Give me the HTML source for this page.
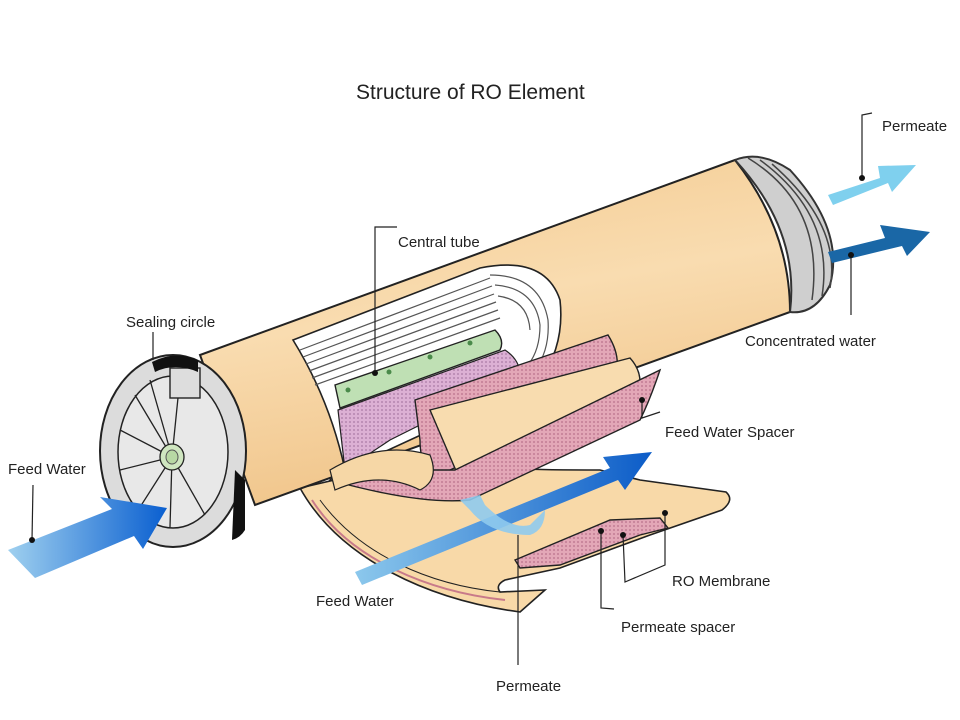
<!DOCTYPE html>
<html><head><meta charset="utf-8"><style>
html,body{margin:0;padding:0;background:#fff}
svg{display:block}
text{font-family:"Liberation Sans",sans-serif;fill:#222}
</style></head><body>
<svg width="960" height="720" viewBox="0 0 960 720" xmlns="http://www.w3.org/2000/svg">
<defs>
<linearGradient id="tan" x1="0" y1="0" x2="0.3" y2="1">
<stop offset="0" stop-color="#f3c98e"/><stop offset="0.5" stop-color="#f9dcb0"/><stop offset="1" stop-color="#f0c489"/></linearGradient>
<linearGradient id="feed" x1="0" y1="0" x2="1" y2="0">
<stop offset="0" stop-color="#9fd0ef"/><stop offset="1" stop-color="#0a5fd0"/></linearGradient>
<linearGradient id="mid" x1="0" y1="0" x2="1" y2="0">
<stop offset="0" stop-color="#8cc8ec"/><stop offset="1" stop-color="#0c5cc8"/></linearGradient>
<pattern id="dots" width="4" height="4" patternUnits="userSpaceOnUse">
<rect width="4" height="4" fill="#e3a7b7"/><circle cx="2" cy="2" r="0.9" fill="#b8708a"/></pattern>
<pattern id="dots2" width="4" height="4" patternUnits="userSpaceOnUse">
<rect width="4" height="4" fill="#dcb0d4"/><circle cx="2" cy="2" r="0.9" fill="#a97aa5"/></pattern>
</defs>

<text x="356" y="99" font-size="21">Structure of RO Element</text>

<!-- lower unrolled sheet -->
<path d="M300,488 C340,560 430,600 520,612 L545,590 L500,592 Q495,585 505,580 L560,568 L650,535 L722,510 Q735,500 726,492 L640,480 L600,470 C560,470 470,470 420,460 Z" fill="#f8d9a8" stroke="#222" stroke-width="1.6"/>
<path d="M312,500 C350,560 430,592 505,600" fill="none" stroke="#c87a8a" stroke-width="2"/>
<path d="M320,500 C360,555 430,585 500,592" fill="none" stroke="#222" stroke-width="1"/>
<path d="M515,560 L610,520 L660,518 L668,528 L640,535 L560,565 L520,568 Z" fill="url(#dots)" stroke="#222" stroke-width="1.4"/>

<!-- main tube -->
<path d="M200,355 L735,160 Q790,230 790,312 L255,505 Z" fill="url(#tan)" stroke="#222" stroke-width="2"/>
<!-- right end ring -->
<path d="M735,160 Q760,150 790,170 Q845,230 830,285 Q815,315 790,312 Q800,230 735,160 Z" fill="#cfcfcf" stroke="#333" stroke-width="2"/>
<path d="M748,158 Q825,205 812,300" fill="none" stroke="#444" stroke-width="1.5"/>
<path d="M760,160 Q835,215 822,296" fill="none" stroke="#444" stroke-width="1.5"/>
<path d="M772,164 Q842,225 830,288" fill="none" stroke="#444" stroke-width="1.5"/>

<!-- cutaway layered region -->
<path d="M293,340 L480,268 Q545,255 560,300 Q565,345 540,380 L345,470 Q330,400 293,340 Z" fill="#fff" stroke="#222" stroke-width="1.6"/>
<g stroke="#555" stroke-width="1.2" fill="none">
<path d="M300,350 L490,278"/><path d="M303,357 L492,286"/><path d="M306,364 L494,294"/><path d="M309,371 L496,302"/><path d="M312,378 L498,310"/><path d="M315,385 L500,318"/>
<path d="M490,275 Q540,275 548,320 Q550,350 535,370"/><path d="M495,285 Q535,288 540,325 Q540,350 528,365"/><path d="M498,296 Q528,300 530,330"/>
</g>
<!-- green central tube -->
<path d="M335,385 L495,330 Q505,340 500,350 L340,408 Z" fill="#bfe0b4" stroke="#222" stroke-width="1.4"/>
<circle cx="348" cy="390" r="2.5" fill="#4a8a4a"/><circle cx="389" cy="372" r="2.5" fill="#4a8a4a"/><circle cx="430" cy="357" r="2.5" fill="#4a8a4a"/><circle cx="470" cy="343" r="2.5" fill="#4a8a4a"/>
<!-- pink sheets -->
<path d="M338,410 L505,350 Q520,360 520,375 L390,440 Q360,460 345,470 Z" fill="url(#dots2)" stroke="#222" stroke-width="1.2"/>
<path d="M415,400 L608,335 Q630,370 600,400 L450,470 Q420,480 420,440 Z" fill="url(#dots)" stroke="#222" stroke-width="1.4"/>
<path d="M430,410 L630,358 Q650,380 630,410 L460,480 Z" fill="#f8dcaf" stroke="#222" stroke-width="1.4"/>
<path d="M455,470 L660,370 Q650,400 640,420 L470,500 Q420,505 330,480 Q350,460 400,470 Z" fill="url(#dots)" stroke="#222" stroke-width="1.4"/>
<path d="M330,470 Q380,440 430,455 Q440,480 420,490 Q380,470 335,490 Z" fill="#f6d7a6" stroke="#222" stroke-width="1.2"/>

<!-- left end cap -->
<ellipse cx="173" cy="451" rx="73" ry="96" fill="#dcdcdc" stroke="#222" stroke-width="2"/>
<ellipse cx="173" cy="452" rx="55" ry="76" fill="#e8e8e8" stroke="#222" stroke-width="1.5"/>
<g stroke="#222" stroke-width="1.3">
<line x1="172" y1="457" x2="135" y2="395"/><line x1="172" y1="457" x2="120" y2="430"/><line x1="172" y1="457" x2="120" y2="470"/><line x1="172" y1="457" x2="135" y2="515"/>
<line x1="172" y1="457" x2="170" y2="527"/><line x1="172" y1="457" x2="205" y2="515"/><line x1="172" y1="457" x2="180" y2="378"/><line x1="172" y1="457" x2="150" y2="380"/>
</g>
<rect x="170" y="368" width="30" height="30" fill="#ddd" stroke="#222" stroke-width="1.4"/>
<path d="M152,362 Q175,350 198,360 L198,372 Q175,362 155,372 Z" fill="#111"/>
<path d="M235,470 L245,480 L245,530 Q240,538 232,540 Z" fill="#111"/>
<ellipse cx="172" cy="457" rx="12" ry="13" fill="#cfe6c0" stroke="#222" stroke-width="1.3"/>
<ellipse cx="172" cy="457" rx="6" ry="7" fill="#b8d8a4" stroke="#555"/>

<!-- arrows -->
<path d="M8,550 L112,509 L100,497 L167,508 L143,549 L134,536 L35,578 Z" fill="url(#feed)"/>
<path d="M355,572 L610,468 L603,457 L652,452 L625,490 L618,480 L362,585 Z" fill="url(#mid)"/>
<path d="M460,500 L480,495 L485,505 Q510,530 530,525 L545,510 Q545,530 530,535 Q490,535 470,510 Z" fill="#8fcaed" opacity="0.9"/>
<path d="M828,195 L880,178 L878,166 L916,165 L892,192 L888,183 L833,205 Z" fill="#7fd0ee"/>
<path d="M828,252 L885,238 L880,225 L930,232 L907,256 L902,246 L832,263 Z" fill="#1a67a6"/>

<!-- leader lines -->
<g stroke="#222" stroke-width="1.2" fill="none">
<path d="M872,113 L862,115 L862,178"/>
<path d="M851,255 L851,315"/>
<path d="M397,227 L375,227 L375,373"/>
<path d="M153,332 L153,360"/>
<path d="M33,485 L32,540"/>
<path d="M642,400 L642,418 L660,412"/>
<path d="M665,513 L665,565 L625,582 L623,535"/>
<path d="M601,531 L601,608 L614,609"/>
<path d="M518,535 L518,665"/>
</g>
<g fill="#111">
<circle cx="862" cy="178" r="3"/><circle cx="851" cy="255" r="3"/><circle cx="375" cy="373" r="3"/><circle cx="32" cy="540" r="3"/>
<circle cx="642" cy="400" r="3"/><circle cx="665" cy="513" r="3"/><circle cx="623" cy="535" r="3"/><circle cx="601" cy="531" r="3"/>
</g>

<g font-size="15">
<text x="882" y="131">Permeate</text>
<text x="398" y="247">Central tube</text>
<text x="126" y="327">Sealing circle</text>
<text x="745" y="346">Concentrated water</text>
<text x="665" y="437">Feed Water Spacer</text>
<text x="8" y="474">Feed Water</text>
<text x="672" y="586">RO Membrane</text>
<text x="316" y="606">Feed Water</text>
<text x="621" y="632">Permeate spacer</text>
<text x="496" y="691">Permeate</text>
</g>
</svg>
</body></html>
